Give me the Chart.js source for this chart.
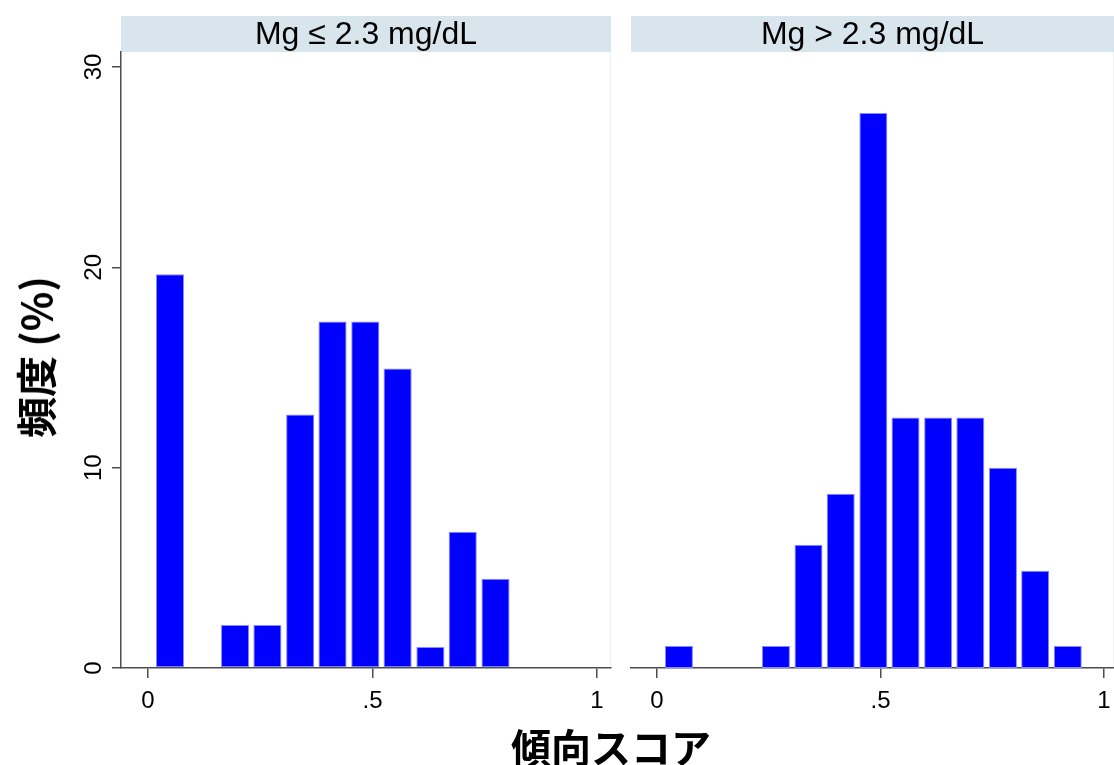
<!DOCTYPE html>
<html>
<head>
<meta charset="utf-8">
<script src="https://cdn.jsdelivr.net/npm/chart.js@4"></script>
<style>
  html,body{margin:0;padding:0;background:#fff;overflow:hidden;}
  #wrap{position:relative;width:1114px;height:765px;}
  canvas{position:absolute;top:0;}
  #ylab{position:absolute;left:34px;top:357px;transform:translate(-50%,-50%) rotate(-90deg);
        font:bold 41px "Noto Sans CJK JP";white-space:nowrap;color:#000;}
  #xlab{position:absolute;left:611px;top:746px;transform:translate(-50%,-50%);
        font:bold 40px "Noto Sans CJK JP";white-space:nowrap;color:#000;}
</style>
</head>
<body>
<div id="wrap">
  <canvas id="c1" width="621" height="765" style="left:0"></canvas>
  <canvas id="c2" width="493" height="765" style="left:621px"></canvas>
  <div id="ylab">頻度 (%)</div>
  <div id="xlab">傾向スコア</div>
</div>
<script>
// ビン中心 (傾向スコア)
const binCenters = [0.049,0.121,0.194,0.266,0.339,0.411,0.484,0.556,0.629,0.701,0.774,0.846,0.919];
// 頻度 (%)
const lowMg  = [19.65,0,2.15,2.15,12.65,17.3,17.3,14.95,1.05,6.8,4.45,0,0];
const highMg = [1.1,0,0,1.1,6.15,8.7,27.7,12.5,12.5,12.5,10.0,4.85,1.1];
const panelTitles = ['Mg ≤ 2.3 mg/dL','Mg > 2.3 mg/dL'];
const xTicks = [0,0.5,1];
const yTicks = [0,10,20,30];

const tickFont = '"Liberation Sans", Arial, Helvetica, sans-serif';
const axisGray = '#4d4d4d';

// ストリップ (パネル見出し)
const stripPlugin = {
  id:'strip',
  beforeDraw(chart){
    const ctx = chart.ctx, a = chart.chartArea;
    ctx.save();
    ctx.fillStyle = '#d9e5ec';
    ctx.fillRect(a.left,16,a.right-a.left,36);
    ctx.fillStyle = '#000';
    ctx.font = '32px ' + tickFont;
    ctx.textAlign = 'center';
    ctx.textBaseline = 'middle';
    ctx.fillText(chart.options.plugins.strip.text,(a.left+a.right)/2,35);
    ctx.strokeStyle = '#f0f0f0';
    ctx.lineWidth = 1;
    ctx.beginPath();
    ctx.moveTo(a.right-0.5,52); ctx.lineTo(a.right-0.5,a.bottom);
    ctx.stroke();
    ctx.restore();
  }
};

// y目盛りラベル (縦書き回転)
const yLabelPlugin = {
  id:'ylabels',
  afterDraw(chart){
    if(!chart.options.plugins.ylabels.show) return;
    const ctx = chart.ctx, y = chart.scales.y;
    ctx.save();
    ctx.fillStyle = '#000';
    ctx.font = '24px ' + tickFont;
    ctx.textAlign = 'center';
    ctx.textBaseline = 'middle';
    yTicks.forEach(v=>{
      ctx.save();
      ctx.translate(94,y.getPixelForValue(v));
      ctx.rotate(-Math.PI/2);
      ctx.fillText(String(v),0,0);
      ctx.restore();
    });
    ctx.restore();
  }
};

function makePanel(id,values,title,showY,pad,xmin,xmax){
  return new Chart(document.getElementById(id),{
    type:'bar',
    data:{
      datasets:[{
        data: binCenters.map((x,i)=>({x:x,y:values[i]})),
        backgroundColor:'#0000ff',
        borderColor:'#8a8aff',
        borderWidth:1,
        borderSkipped:false,
        categoryPercentage:1,
        barPercentage:0.87
      }]
    },
    plugins:[stripPlugin,yLabelPlugin],
    options:{
      responsive:false,
      devicePixelRatio:1,
      animation:false,
      layout:{padding:pad},
      plugins:{
        legend:{display:false},
        tooltip:{enabled:false},
        strip:{text:title},
        ylabels:{show:showY}
      },
      scales:{
        x:{
          type:'linear',
          offset:false,
          min:xmin,max:xmax,
          afterBuildTicks(s){ s.ticks = xTicks.map(v=>({value:v})); },
          afterFit(s){ s.height = 97; s.paddingLeft = 0; s.paddingRight = 0; },
          ticks:{
            color:'#000',
            font:{family:tickFont,size:24},
            padding:9,
            maxRotation:0,
            callback:v=> v===0 ? '0' : (v===1 ? '1' : String(v).replace(/^0/,''))
          },
          grid:{offset:false,drawOnChartArea:false,drawTicks:true,tickLength:10,color:axisGray,lineWidth:1.5},
          border:{display:true,color:axisGray,width:1.5}
        },
        y:{
          display:showY,
          min:0,max:30.75,
          afterBuildTicks(s){ s.ticks = yTicks.map(v=>({value:v})); },
          afterFit(s){ if(showY) s.width = 121; },
          ticks:{display:false},
          grid:{drawOnChartArea:false,drawTicks:true,tickLength:9,color:axisGray,lineWidth:1.5},
          border:{display:true,color:axisGray,width:1.5}
        }
      }
    }
  });
}

makePanel('c1',lowMg,panelTitles[0],true,{top:52,right:10,bottom:0,left:0},-0.0601,1.0312);
makePanel('c2',highMg,panelTitles[1],false,{top:52,right:0,bottom:0,left:10},-0.0582,1.0224);
</script>
</body>
</html>
